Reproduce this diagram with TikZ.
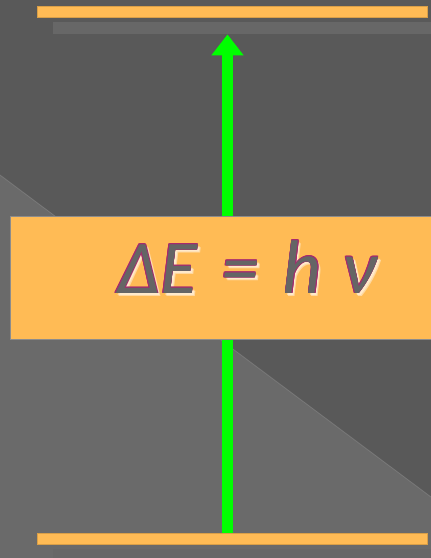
\documentclass[tikz,border=0pt]{standalone}
\usepackage{fontspec}
\setmainfont{Carlito}
\usetikzlibrary{arrows.meta, calc}
\definecolor{bgdark}{HTML}{595959}
\definecolor{bglight}{HTML}{6A6A6A}
\definecolor{barorange}{HTML}{FFBB55}
\definecolor{shadebar}{HTML}{676767}
\definecolor{photongreen}{HTML}{00FF00}
\definecolor{textgray}{HTML}{656565}
\definecolor{textrim}{HTML}{A8286E}
\newcommand{\planck}{ΔE\hspace{24pt}=\hspace{24pt}h\hspace{20pt}ν}

\begin{document}
\begin{tikzpicture}[x=1pt, y=-1pt,
    level/.style={rectangle, fill=barorange, draw=barorange!85!black,
      line width=0.5pt, minimum width=390pt, minimum height=11pt,
      inner sep=0pt, anchor=north west},
    shadebox/.style={rectangle, fill=shadebar, minimum width=380pt,
      minimum height=12pt, inner sep=0pt, anchor=north west},
    energybox/.style={rectangle, fill=barorange, draw=black!45,
      line width=0.6pt, minimum width=430pt, minimum height=123pt,
      inner sep=0pt, anchor=north west},
    formula/.style={font=\fontsize{76}{80}\selectfont\itshape,
      inner sep=0pt, anchor=base west},
    photon/.style={-{Triangle[width=31pt,length=21pt]}, line width=11pt,
      draw=photongreen}
  ]
  \useasboundingbox (0,0) rectangle (431,558);
  % background
  \fill[bgdark] (0,0) rectangle (431,558);
  \fill[bglight] (0,175) -- (431,497) -- (431,558) -- (0,558) -- cycle;
  \draw[black!45!white, line width=0.8pt, opacity=0.5] (0,175) -- (431,497);

  % energy levels
  \node[shadebox] (upshade) at (53,22) {};
  \node[level] (upper) at (37,6) {};
  \node[shadebox] (lowshade) at (53,549) {};
  \node[level] (lower) at (37,533) {};

  % transition
  \coordinate (axis) at (227.5,0);
  \draw[photon] (axis |- lower.north) -- (axis |- upshade.south);

  \node[energybox] (gap) at (10,216) {};

  % formula with rim and glow
  \coordinate (eqbase) at (117,293);
  \foreach \dx/\dy in {3/3, 2/2}
    \node[formula, text=white, opacity=0.45] (glow) at ($(eqbase)+(\dx,\dy)$)
      {\planck};
  \foreach \ang in {0,45,...,315}
    \node[formula, text=textrim] (rim) at ($(eqbase)+(\ang:0.8)$)
      {\planck};
  \node[formula, text=textgray] (eq) at (eqbase) {\planck};
\end{tikzpicture}
\end{document}
